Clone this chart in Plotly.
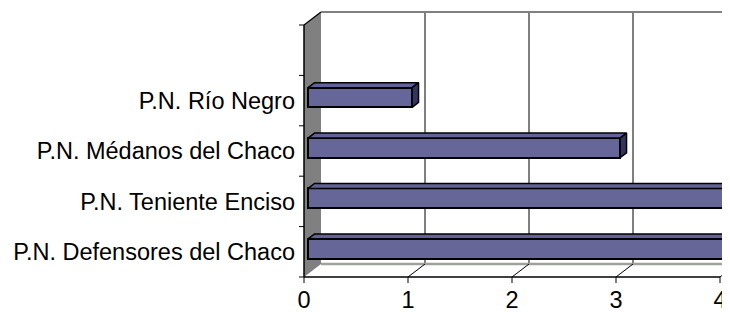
import plotly.graph_objects as go

# ---- data ----
categories = ["P.N. Defensores del Chaco", "P.N. Teniente Enciso",
              "P.N. Médanos del Chaco", "P.N. Río Negro", ""]
values = [4, 4, 3, 1]
value_ticks = [0, 1, 2, 3, 4]

# ---- geometry / style constants (figure pixels; page body adds an 8px offset) ----
W, H = 722, 304
ML, MR, MT, MB = 288, 0, 0, 29
X0_PX, Y0_PX = 296, 269          # pixel of value 0 / floor at front plane
PX_U, PX_C = 104.0, 50.4         # pixels per value unit / per category
DEPTH_X, DEPTH_Y = 17.0, 13.0    # pixel offset of back plane
DX, DY = DEPTH_X / PX_U, DEPTH_Y / PX_C
D0, D1 = 0.24, 0.62              # bar depth (front, back)
HALF = 0.195                     # half bar thickness in category units
BAR_FRONT = "#666699"
BAR_TOP = "#62629a"
BAR_SIDE = "#34345e"
WALL = "#808080"
FONT = "Arial, Liberation Sans, sans-serif"

ncat = len(categories)
umax = max(value_ticks)


def P(u, c, d):
    return u + d * DX, c + d * DY


def path(points):
    return "M " + " L ".join(f"{x:.5f},{y:.5f}" for x, y in points) + " Z"


def seg(p, q, color, width):
    return dict(type="line", xref="x", yref="y", layer="below",
                x0=p[0], y0=p[1], x1=q[0], y1=q[1],
                line=dict(color=color, width=width))


shapes = []
# left wall
shapes.append(dict(type="path", xref="x", yref="y", layer="below",
                   path=path([P(0, 0, 0), P(0, ncat, 0), P(0, ncat, 1), P(0, 0, 1)]),
                   fillcolor=WALL, line=dict(width=0)))
# back wall gridlines
for k in value_ticks[1:]:
    shapes.append(seg(P(k, 0, 1), P(k, ncat, 1), "black", 1))
# back wall top edge and floor back edge
shapes.append(seg(P(0, ncat, 1), P(umax + 0.5, ncat, 1), WALL, 2))
shapes.append(seg(P(0, 0, 1), P(umax + 0.5, 0, 1), "#a0a0a0", 2.5))
# floor diagonals
for k in value_ticks[1:]:
    shapes.append(seg(P(k, 0, 1), P(k, 0, 0), "black", 1))
# front value axis + ticks
shapes.append(seg(P(0, 0, 0), P(umax, 0, 0), "black", 1.5))
for k in value_ticks:
    shapes.append(seg(P(k, 0, 0), (k, -6 / PX_C), "black", 1))
# left category axis + ticks
shapes.append(seg(P(0, 0, 0), P(0, ncat, 0), "black", 1.5))
for i in range(ncat + 1):
    shapes.append(seg((-5 / PX_U, i), (0, i), "black", 1))
# left wall top edge
shapes.append(seg(P(0, ncat, 0), P(0, ncat, 1), "black", 1.2))

fig = go.Figure()

# front faces of the bars
bar_y = [i + 0.5 + D0 * DY for i in range(len(values))]
fig.add_trace(go.Bar(
    orientation="h", x=values, y=bar_y, base=D0 * DX, width=2 * HALF,
    marker=dict(color=BAR_FRONT, line=dict(color="black", width=2)),
    hoverinfo="skip", showlegend=False))

# top and side faces
for i, v in enumerate(values):
    c = i + 0.5
    yt, yb = c + HALF, c - HALF
    top = [P(0, yt, D0), P(v, yt, D0), P(v, yt, D1), P(0, yt, D1), P(0, yt, D0)]
    side = [P(v, yt, D0), P(v, yt, D1), P(v, yb, D1), P(v, yb, D0), P(v, yt, D0)]
    for pts, col in ((top, BAR_TOP), (side, BAR_SIDE)):
        fig.add_trace(go.Scatter(
            x=[p[0] for p in pts], y=[p[1] for p in pts],
            mode="lines", fill="toself", fillcolor=col,
            line=dict(color="black", width=1.5),
            hoverinfo="skip", showlegend=False))

fig.update_layout(
    width=W, height=H,
    margin=dict(l=ML, r=MR, t=MT, b=MB, autoexpand=False),
    paper_bgcolor="white", plot_bgcolor="white",
    font=dict(family=FONT, size=23.5, color="black"),
    shapes=shapes, bargap=0,
    xaxis=dict(range=[(ML - X0_PX) / PX_U, (W - MR - X0_PX) / PX_U],
               tickvals=value_ticks, ticktext=[str(t) for t in value_ticks],
               showgrid=False, zeroline=False, showline=False, ticks="",
               fixedrange=True),
    yaxis=dict(range=[(Y0_PX - (H - MB)) / PX_C, (Y0_PX - MT) / PX_C],
               tickvals=[i + 0.5 for i in range(ncat)], ticktext=categories,
               showgrid=False, zeroline=False, showline=False, ticks="",
               fixedrange=True),
)

fig.write_html("out.html")
